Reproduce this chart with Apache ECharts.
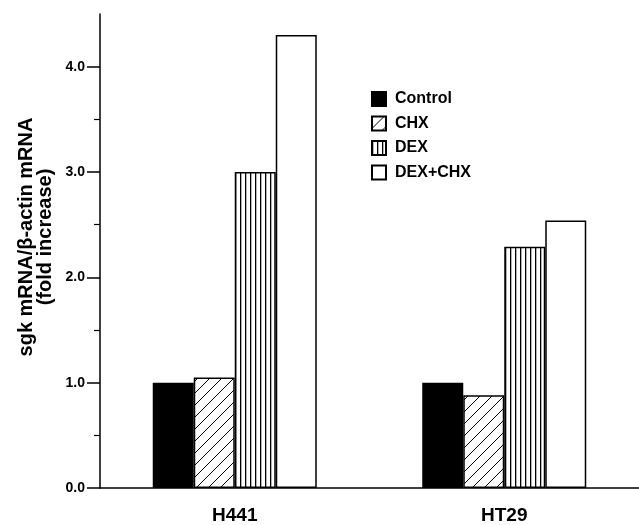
<!DOCTYPE html>
<html><head><meta charset="utf-8">
<script src="https://cdn.jsdelivr.net/npm/echarts@6/dist/echarts.min.js"></script>
<style>html,body{margin:0;padding:0;background:#fff}#c{width:639px;height:525px}</style>
</head><body><div id="c"></div>
<script>
const categories = ['H441', 'HT29'];
const seriesNames = ['Control', 'CHX', 'DEX', 'DEX+CHX'];
const control = [1.0, 1.0];
const chx = [1.05, 0.88];
const dex = [3.0, 2.29];
const dexChx = [4.30, 2.54];
const majorTicks = [0, 1, 2, 3, 4];
const minorTicks = [0.5, 1.5, 2.5, 3.5];

function diagPattern() {
  const s = 12, c = document.createElement('canvas');
  c.width = s; c.height = s;
  const g = c.getContext('2d');
  g.fillStyle = '#fff'; g.fillRect(0, 0, s, s);
  g.strokeStyle = '#000'; g.lineWidth = 1;
  g.beginPath();
  g.moveTo(-2, s + 2); g.lineTo(s + 2, -2);
  g.moveTo(-2, 2); g.lineTo(2, -2);
  g.moveTo(s - 2, s + 2); g.lineTo(s + 2, s - 2);
  g.stroke();
  return c;
}
function vertPattern() {
  const c = document.createElement('canvas');
  c.width = 5; c.height = 4;
  const g = c.getContext('2d');
  g.fillStyle = '#fff'; g.fillRect(0, 0, 5, 4);
  g.fillStyle = '#000'; g.fillRect(0, 0, 1.3, 4);
  return c;
}
const fills = [
  '#000',
  { image: diagPattern(), repeat: 'repeat' },
  { image: vertPattern(), repeat: 'repeat' },
  '#fff'
];
const dataSets = [control, chx, dex, dexChx];
const FONT = 'Liberation Sans, Arial, Helvetica, sans-serif';

const chart = echarts.init(document.getElementById('c'), null, { renderer: 'canvas' });
chart.setOption({
  animation: false,
  backgroundColor: '#fff',
  grid: { left: 100, right: 0, top: 14, bottom: 34, containLabel: false },
  legend: {
    orient: 'vertical', left: 366, top: 86,
    itemWidth: 14, itemHeight: 14, itemGap: 8.5,
    icon: 'rect',
    textStyle: { fontFamily: FONT, fontWeight: 'bold', fontSize: 16, color: '#000', padding: [0, 0, 0, 4] },
    data: seriesNames
  },
  xAxis: {
    type: 'category', data: categories,
    axisLine: { lineStyle: { color: '#000', width: 1.5 } },
    axisTick: { show: false },
    axisLabel: { margin: 18, fontFamily: FONT, fontWeight: 'bold', fontSize: 19, color: '#000' }
  },
  yAxis: [{
    type: 'value', min: 0, max: 4.5,
    axisLine: { show: true, lineStyle: { color: '#000', width: 1.5 } },
    axisTick: { show: true, customValues: majorTicks, length: 13, lineStyle: { color: '#000', width: 1.5 } },
    splitLine: { show: false },
    axisLabel: {
      customValues: majorTicks,
      margin: 15, fontFamily: FONT, fontWeight: 'bold', fontSize: 14, color: '#000',
      formatter: v => v.toFixed(1)
    }
  }, {
    type: 'value', min: 0, max: 4.5, position: 'left',
    axisLine: { show: false },
    axisTick: { show: true, customValues: minorTicks, length: 6, lineStyle: { color: '#000', width: 1.2 } },
    splitLine: { show: false },
    axisLabel: { show: false }
  }],
  graphic: [{
    type: 'text', x: 36, y: 237, rotation: Math.PI / 2,
    style: {
      text: 'sgk mRNA/β-actin mRNA\n(fold increase)',
      fontFamily: FONT, fontWeight: 'bold', fontSize: 20, fill: '#000',
      align: 'center', verticalAlign: 'middle', lineHeight: 19
    }
  }],
  series: seriesNames.map((n, i) => ({
    name: n, type: 'bar', data: dataSets[i],
    barWidth: 41, barGap: '0%',
    itemStyle: { color: fills[i], borderColor: '#000', borderWidth: 1.5 }
  }))
});
</script></body></html>
